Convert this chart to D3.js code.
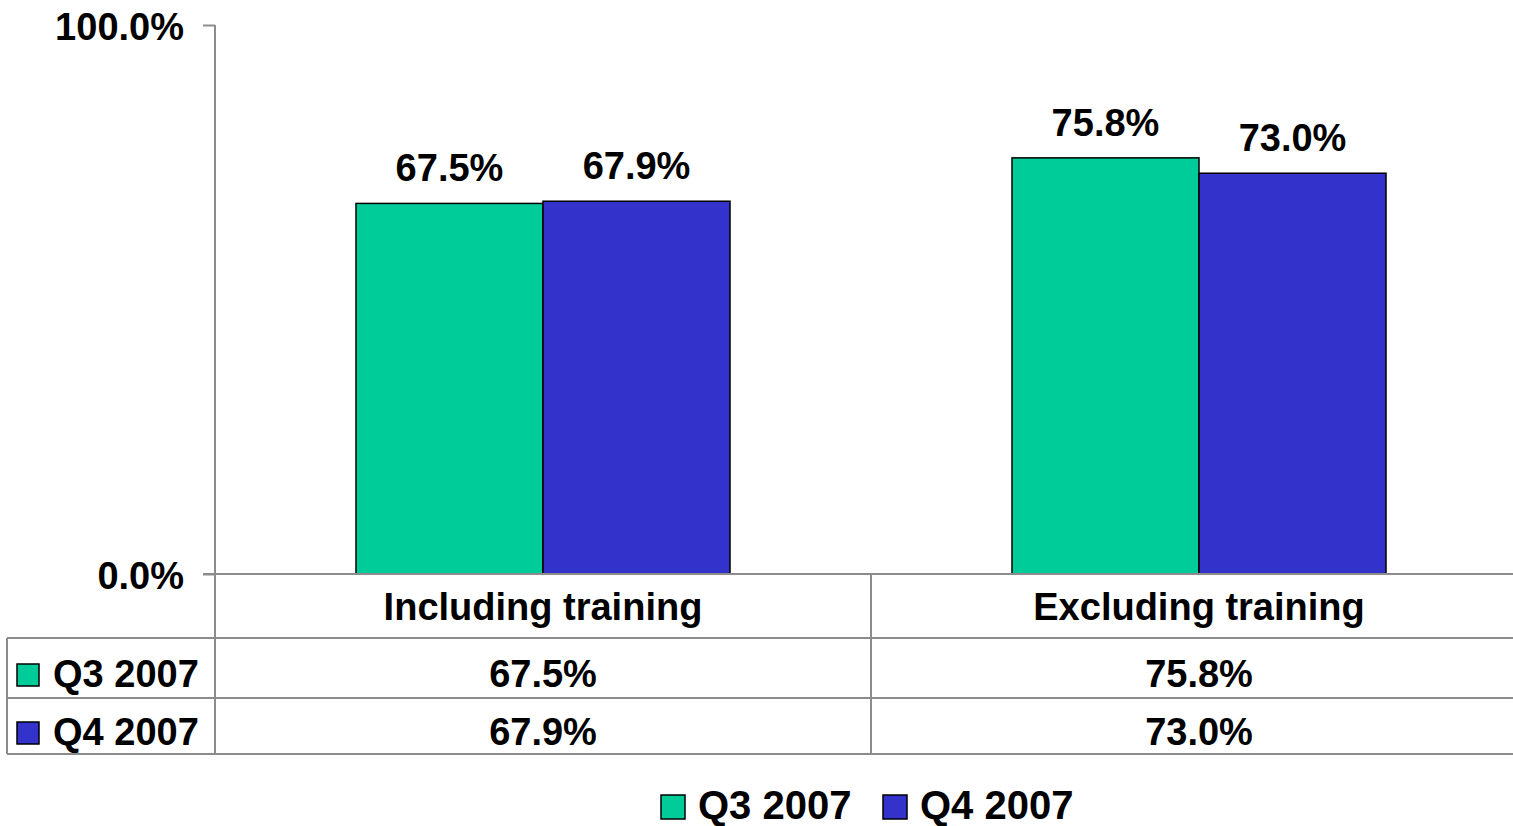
<!DOCTYPE html>
<html>
<head>
<meta charset="utf-8">
<script src="https://cdn.jsdelivr.net/npm/d3@7"></script>
<style>
  body { margin: 0; background: #fff; }
  svg { display: block; font-family: "Liberation Sans", Arial, sans-serif; font-weight: bold; }
</style>
</head>
<body>
<svg id="chart" width="1513" height="826"></svg>
<script>
var categories = ["Including training", "Excluding training"];
var seriesNames = ["Q3 2007", "Q4 2007"];
var q3Values = [0.675, 0.758];
var q4Values = [0.679, 0.730];
var yTicks = [0, 1];
var colors = ["#00cc99", "#3333cc"];

(function() {
    var svg = d3.select("#chart"),
        gridColor = "#8c8c8c",
        plotLeft = 215, plotRight = 1527, plotTop = 25, plotBottom = 574,
        tableLeft = 7,
        rowY = [574, 638, 698, 754],
        fontSize = 38;

    var values = [q3Values, q4Values];

    var y = d3.scaleLinear().domain([0, 1]).range([plotBottom, plotTop]);
    var x = d3.scaleBand().domain(categories).range([plotLeft, plotRight]);
    var xSub = d3.scaleBand().domain(seriesNames).range([0, x.bandwidth()]).paddingOuter(0.754);

    // axis
    var axis = svg.append("g")
        .attr("transform", "translate(" + plotLeft + ",0)")
        .call(d3.axisLeft(y).tickValues(yTicks).tickFormat(d3.format(".1%")).tickSize(12).tickPadding(19));
    axis.select(".domain").remove();
    axis.selectAll(".tick line").attr("stroke", gridColor).attr("stroke-width", 2);
    axis.selectAll(".tick text")
        .attr("fill", "#000")
        .style("font-size", fontSize + "px")
        .style("font-family", "Liberation Sans, Arial, sans-serif")
        .style("font-weight", "bold")
        .attr("dy", "0.37em");

    // bars
    var groups = svg.selectAll(".grp")
        .data(categories)
        .enter()
        .append("g")
        .attr("class", "grp")
        .attr("transform", function(d){ return "translate(" + x(d) + ",0)"; });

    groups.selectAll("rect")
        .data(function(d, i){ return seriesNames.map(function(s, j){ return {s: s, v: values[j][i], j: j}; }); })
        .enter()
        .append("rect")
        .attr("x", function(d){ return xSub(d.s); })
        .attr("width", xSub.bandwidth())
        .attr("y", function(d){ return y(d.v); })
        .attr("height", function(d){ return plotBottom - y(d.v); })
        .attr("fill", function(d){ return colors[d.j]; })
        .attr("stroke", "#000")
        .attr("stroke-width", 1.5);

    groups.selectAll("text.val")
        .data(function(d, i){ return seriesNames.map(function(s, j){ return {s: s, v: values[j][i]}; }); })
        .enter()
        .append("text")
        .attr("class", "val")
        .attr("x", function(d){ return xSub(d.s) + xSub.bandwidth() / 2; })
        .attr("y", function(d){ return y(d.v) - 22; })
        .attr("text-anchor", "middle")
        .style("font-size", fontSize + "px")
        .text(function(d){ return d3.format(".1%")(d.v); });

    // table grid
    var lines = svg.append("g").attr("stroke", gridColor).attr("stroke-width", 2);
    lines.append("line").attr("x1", plotLeft - 12).attr("x2", 1513).attr("y1", rowY[0]).attr("y2", rowY[0]);
    rowY.slice(1).forEach(function(ry){
        lines.append("line").attr("x1", tableLeft).attr("x2", 1513).attr("y1", ry).attr("y2", ry);
    });
    lines.append("line").attr("x1", plotLeft).attr("x2", plotLeft).attr("y1", plotTop).attr("y2", rowY[3]);
    lines.append("line").attr("x1", tableLeft).attr("x2", tableLeft).attr("y1", rowY[1]).attr("y2", rowY[3]);
    lines.append("line").attr("x1", x(categories[1])).attr("x2", x(categories[1])).attr("y1", rowY[0]).attr("y2", rowY[3]);

    // category labels
    svg.selectAll("text.cat")
        .data(categories)
        .enter()
        .append("text")
        .attr("class", "cat")
        .attr("x", function(d){ return x(d) + x.bandwidth() / 2; })
        .attr("y", 620)
        .attr("text-anchor", "middle")
        .style("font-size", fontSize + "px")
        .text(function(d){ return d; });

    // table rows
    var rowBase = [687, 745];
    seriesNames.forEach(function(s, j){
        svg.append("rect")
            .attr("x", 17).attr("y", rowBase[j] - 23)
            .attr("width", 22).attr("height", 22)
            .attr("fill", colors[j]).attr("stroke", "#000").attr("stroke-width", 1.5);
        svg.append("text")
            .attr("x", 53).attr("y", rowBase[j])
            .style("font-size", fontSize + "px")
            .text(s);
        svg.selectAll(null)
            .data(categories)
            .enter()
            .append("text")
            .attr("x", function(d){ return x(d) + x.bandwidth() / 2; })
            .attr("y", rowBase[j])
            .attr("text-anchor", "middle")
            .style("font-size", fontSize + "px")
            .text(function(d, i){ return d3.format(".1%")(values[j][i]); });
    });

    // legend
    var legendX = [661, 883];
    seriesNames.forEach(function(s, j){
        svg.append("rect")
            .attr("x", legendX[j]).attr("y", 795)
            .attr("width", 24).attr("height", 24)
            .attr("fill", colors[j]).attr("stroke", "#000").attr("stroke-width", 1.5);
        svg.append("text")
            .attr("x", legendX[j] + 37).attr("y", 819)
            .style("font-size", "40px")
            .text(s);
    });
})();
</script>
</body>
</html>
